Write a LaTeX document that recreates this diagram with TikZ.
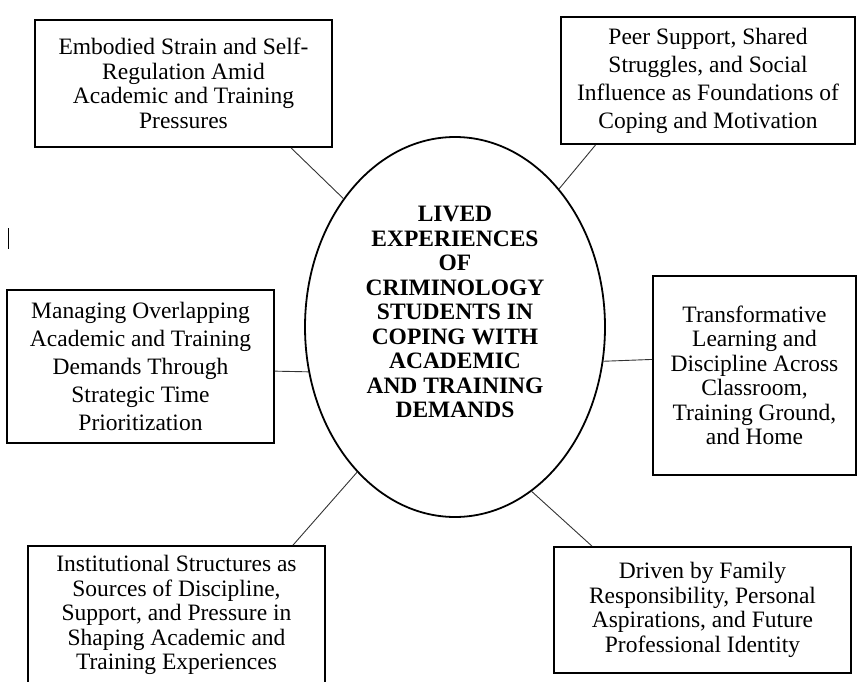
\documentclass[tikz,border=0pt]{standalone}
\usepackage{fontspec}
\setmainfont{Liberation Serif}
\newfontfamily\themefont{Liberation Serif}
\usetikzlibrary{calc,shapes.geometric,positioning}

\begin{document}
\begin{tikzpicture}[x=1pt, y=-1pt]
        \tikzset{
                basic/.style  = {draw, rectangle, line width=1.8pt, align=center, inner sep=0pt,
                                font=\themefont\fontsize{23.5}{24.5}\selectfont},
                loose/.style  = {basic, font=\themefont\fontsize{23.5}{28}\selectfont},
                core/.style   = {draw, ellipse, line width=1.8pt, minimum width=300pt,
                                minimum height=380pt, inner sep=0pt},
                title/.style  = {align=center, inner sep=0pt,
                                font=\themefont\bfseries\fontsize{23.5}{24.5}\selectfont},
                link/.style   = {draw=black!80, line width=0.9pt}
        }
        \useasboundingbox (0,0) rectangle (857,682);
        \clip (0,0) rectangle (857,682);

        % centre of the map
        \node[core] (core) at (455,327) {};
        \node[title] (title) at ([yshift=15pt]core.center) {LIVED\\ EXPERIENCES\\ OF\\ CRIMINOLOGY\\
                STUDENTS IN\\ COPING WITH\\ ACADEMIC\\ AND TRAINING\\ DEMANDS};

        % the six themes round it
        \node[basic, minimum width=297pt, minimum height=127pt] (t1) at (183.5,83.5)
                {Embodied Strain and Self-\\ Regulation Amid\\ Academic and Training\\ Pressures};
        \node[loose, minimum width=294pt, minimum height=127pt] (t2) at (708,80.5)
                {Peer Support, Shared\\ Struggles, and Social\\ Influence as Foundations of\\ Coping and Motivation};
        \node[loose, minimum width=267pt, minimum height=153pt] (t3) at (140.5,366.5)
                {Managing Overlapping\\ Academic and Training\\ Demands Through\\ Strategic Time\\ Prioritization};
        \node[basic, minimum width=203pt, minimum height=199pt] (t4) at (754.5,375.5)
                {Transformative\\ Learning and\\ Discipline Across\\ Classroom,\\ Training Ground,\\ and Home};
        \node[basic, minimum width=297pt, minimum height=138pt] (t5) at (176.5,615)
                {Institutional Structures as\\ Sources of Discipline,\\ Support, and Pressure in\\ Shaping Academic and\\ Training Experiences};
        \node[basic, minimum width=297pt, minimum height=126pt] (t6) at (702.5,610)
                {Driven by Family\\ Responsibility, Personal\\ Aspirations, and Future\\ Professional Identity};

        % short stray stroke on the left
        \draw[line width=1pt] (8,228) -- (8,249);

        % lines from the ellipse to every theme
        \foreach \n/\a/\s/\e/\f in {1/131/south west/south east/0.86,
                                    2/53.5/south west/south east/0.12,
                                    3/197/north east/south east/0.53,
                                    4/347/north west/south west/0.42,
                                    5/236/north west/north east/0.89,
                                    6/295/north west/north east/0.13} {
                \draw[link] (core.\a) -- ($(t\n.\s)!\f!(t\n.\e)$);
        };
\end{tikzpicture}
\end{document}
